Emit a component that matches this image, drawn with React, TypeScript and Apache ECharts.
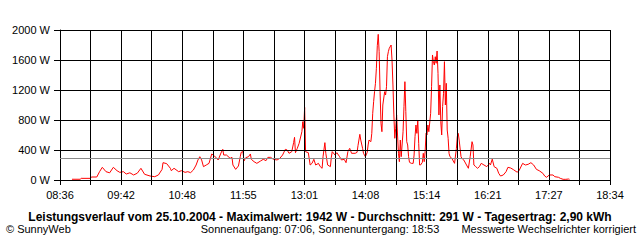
import React, { useEffect, useRef } from "react";
import * as echarts from "echarts";

const startClock = "08:36";
const endClock = "18:34";
const xTickLabels = ["08:36", "09:42", "10:48", "11:55", "13:01", "14:08", "15:14", "16:21", "17:27", "18:34"];
const yMax = 2000;
const yStep = 400;
const averageW = 291;

const times = [
  "08:49", "08:58", "08:59", "09:09", "09:10", "09:16", "09:19", "09:22", "09:26", "09:30",
  "09:34", "09:38", "09:41", "09:45", "09:48", "09:52", "09:56", "10:00", "10:04", "10:08",
  "10:14", "10:19", "10:23", "10:27", "10:28", "10:32", "10:36", "10:37", "10:40", "10:45",
  "10:48", "10:52", "10:55", "10:58", "11:01", "11:04", "11:06", "11:08", "11:10", "11:12",
  "11:15", "11:18", "11:21", "11:24", "11:28", "11:31", "11:33", "11:34", "11:37", "11:41",
  "11:43", "11:44", "11:47", "11:50", "11:52", "11:53", "11:55", "11:56", "11:58", "12:01",
  "12:03", "12:04", "12:07", "12:10", "12:14", "12:17", "12:20", "12:22", "12:25", "12:28",
  "12:32", "12:35", "12:38", "12:41", "12:43", "12:45", "12:48", "12:50", "12:51", "12:52",
  "12:54", "12:56", "12:59", "13:00", "13:01", "13:02", "13:03", "13:06", "13:08", "13:10",
  "13:12", "13:14", "13:17", "13:19", "13:21", "13:22", "13:24", "13:25", "13:27", "13:30",
  "13:31", "13:32", "13:35", "13:37", "13:40", "13:42", "13:45", "13:47", "13:49", "13:51",
  "13:53", "13:57", "13:59", "14:00", "14:02", "14:03", "14:05", "14:06", "14:08", "14:10",
  "14:11", "14:12", "14:14", "14:15", "14:16", "14:17", "14:18", "14:19", "14:20", "14:21",
  "14:22", "14:23", "14:24", "14:25", "14:26", "14:27", "14:29", "14:30", "14:31", "14:32",
  "14:33", "14:34", "14:36", "14:37", "14:38", "14:39", "14:40", "14:41", "14:42", "14:43",
  "14:44", "14:45", "14:46", "14:47", "14:49", "14:50", "14:51", "14:52", "14:53", "14:54",
  "14:55", "14:56", "14:58", "15:00", "15:01", "15:02", "15:03", "15:04", "15:05", "15:06",
  "15:07", "15:08", "15:10", "15:11", "15:12", "15:13", "15:14", "15:15", "15:16", "15:17",
  "15:19", "15:20", "15:21", "15:22", "15:23", "15:24", "15:25", "15:26", "15:27", "15:28",
  "15:29", "15:30", "15:31", "15:32", "15:33", "15:34", "15:35", "15:36", "15:37", "15:38",
  "15:39", "15:40", "15:42", "15:45", "15:47", "15:48", "15:49", "15:50", "15:52", "15:53",
  "15:55", "15:58", "16:00", "16:02", "16:04", "16:05", "16:06", "16:08", "16:10", "16:12",
  "16:14", "16:17", "16:20", "16:23", "16:24", "16:26", "16:28", "16:31", "16:33", "16:35",
  "16:38", "16:41", "16:43", "16:46", "16:49", "16:53", "16:55", "16:59", "17:02", "17:05",
  "17:08", "17:11", "17:14", "17:17", "17:21", "17:23", "17:25", "17:28", "17:32", "17:34",
  "17:38", "17:40", "17:43", "17:46", "17:49", "17:50"
];

const watts = [
  10, 10, 22, 22, 40, 40, 111, 169, 111, 96,
  169, 124, 102, 111, 80, 96, 67, 90, 156, 76,
  53, 44, 67, 142, 231, 218, 156, 124, 156, 111,
  124, 102, 111, 98, 133, 200, 267, 311, 267, 178,
  200, 222, 347, 320, 267, 360, 409, 333, 333, 289,
  302, 200, 142, 187, 311, 369, 378, 253, 298, 311,
  347, 276, 244, 222, 253, 276, 258, 302, 302, 276,
  267, 289, 333, 409, 400, 356, 378, 498, 569, 364,
  422, 489, 644, 778, 689, 969, 378, 364, 200, 222,
  276, 200, 222, 178, 156, 311, 498, 356, 200, 178,
  302, 378, 333, 364, 311, 267, 276, 231, 378, 422,
  356, 356, 369, 458, 609, 533, 422, 356, 311, 367,
  467, 533, 511, 622, 889, 1044, 1178, 1289, 1489, 1791,
  1942, 1711, 1178, 756, 644, 1000, 1178, 1133, 1244, 1644,
  1711, 1756, 1800, 1600, 1267, 867, 556, 689, 867, 600,
  356, 244, 533, 311, 644, 978, 1311, 911, 511, 467,
  311, 236, 222, 222, 333, 578, 733, 622, 800, 489,
  200, 200, 236, 356, 244, 378, 622, 600, 733, 644,
  889, 1244, 1667, 1578, 1533, 1644, 1556, 1720, 1422, 867,
  1267, 778, 600, 978, 1156, 1578, 1000, 1289, 667, 556,
  356, 311, 289, 222, 422, 578, 622, 533, 311, 289,
  267, 200, 156, 311, 511, 467, 200, 178, 156, 178,
  222, 200, 178, 222, 200, 278, 178, 156, 89, 53,
  67, 111, 169, 160, 138, 104, 122, 222, 200, 209,
  231, 200, 142, 124, 89, 53, 36, 67, 67, 44,
  36, 22, 9, 9, 13, 9
];

const titleText =
  "Leistungsverlauf vom 25.10.2004 - Maximalwert: 1942 W - Durchschnitt: 291 W - Tagesertrag: 2,90 kWh";
const footerLeft = "© SunnyWeb";
const footerCenter = "Sonnenaufgang: 07:06, Sonnenuntergang: 18:53";
const footerRight = "Messwerte Wechselrichter korrigiert";

const FONT = "'Liberation Sans', Arial, sans-serif";

function toMin(s: string): number {
  const [h, m] = s.split(":").map(Number);
  return h * 60 + m;
}

export default function App() {
  const ref = useRef<HTMLDivElement>(null);
  useEffect(() => {
    document.body.style.margin = "0";
    const chart = echarts.init(ref.current!, null, { renderer: "svg" });
    const t0 = toMin(startClock);
    const span = toMin(endClock) - t0;
    const interval = span / 18;
    const data = times.map((t, i) => [toMin(t) - t0, watts[i]]);

    chart.setOption({
      animation: false,
      backgroundColor: "#ffffff",
      grid: { left: 60, right: 30, top: 30, bottom: 60 },
      xAxis: {
        type: "value",
        min: 0,
        max: span,
        interval,
        z: 3,
        axisLine: { show: true, lineStyle: { color: "#000", width: 1 } },
        axisTick: { show: true, length: 5, lineStyle: { color: "#000", width: 1 } },
        axisLabel: {
          color: "#000",
          fontSize: 11,
          fontFamily: FONT,
          margin: 9,
          showMinLabel: true,
          showMaxLabel: true,
          formatter: (v: number) => {
            const k = Math.round(v / interval);
            return k % 2 === 0 ? xTickLabels[k / 2] ?? "" : "";
          },
        },
        splitLine: { show: true, lineStyle: { color: "#000", width: 1 } },
      },
      yAxis: {
        type: "value",
        min: 0,
        max: yMax,
        interval: yStep,
        z: 3,
        axisLine: { show: true, lineStyle: { color: "#000", width: 1 } },
        axisTick: { show: true, length: 6, lineStyle: { color: "#000", width: 1 } },
        axisLabel: {
          color: "#000",
          fontSize: 11,
          fontFamily: FONT,
          margin: 10,
          formatter: (v: number) => `${Math.round(v)} W`,
        },
        splitLine: { show: true, lineStyle: { color: "#000", width: 1 } },
      },
      series: [
        {
          type: "line",
          data,
          symbol: "none",
          showSymbol: false,
          z: 2,
          lineStyle: { color: "#ff0000", width: 1 },
          markLine: {
            silent: true,
            symbol: ["none", "none"],
            label: { show: false },
            lineStyle: { color: "#8a8a8a", width: 1, type: "solid" },
            data: [{ yAxis: averageW }],
          },
        },
      ],
      graphic: [
        {
          type: "text",
          x: 320,
          y: 217,
          style: {
            text: titleText,
            fill: "#000",
            font: `bold 12px ${FONT}`,
            textAlign: "center",
            textVerticalAlign: "middle",
          },
        },
        {
          type: "text",
          x: 6,
          y: 229,
          style: {
            text: footerLeft,
            fill: "#000",
            font: `11px ${FONT}`,
            textAlign: "left",
            textVerticalAlign: "middle",
          },
        },
        {
          type: "text",
          x: 320,
          y: 229,
          style: {
            text: footerCenter,
            fill: "#000",
            font: `11px ${FONT}`,
            textAlign: "center",
            textVerticalAlign: "middle",
          },
        },
        {
          type: "text",
          x: 636,
          y: 229,
          style: {
            text: footerRight,
            fill: "#000",
            font: `11px ${FONT}`,
            textAlign: "right",
            textVerticalAlign: "middle",
          },
        },
      ],
    });
    return () => chart.dispose();
  }, []);
  return <div ref={ref} style={{ width: 640, height: 240 }} />;
}
